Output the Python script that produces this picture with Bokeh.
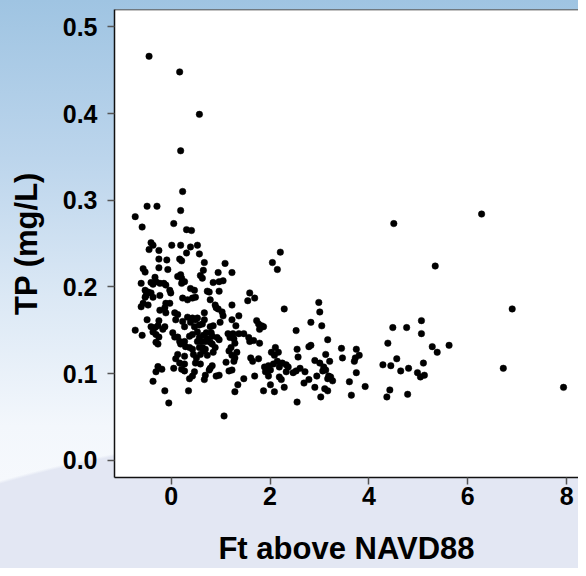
from bokeh.plotting import figure
from bokeh.models import Range1d, FixedTicker, PrintfTickFormatter, Span
from bokeh.embed import file_html
from bokeh.resources import INLINE

# Elevation (ft above NAVD88) and total phosphorus (mg/L)
ft_navd88 = [
    -0.447, 0.172, 0.571, 0.192, 0.232, -0.487, -0.287, -0.727, 0.192, -0.587, 0.052, 0.311, 0.411,
    -0.407, -0.367, 0.012, 0.192, 0.531, 0.391, -0.447, -0.248, 0.311, 0.571, -0.248, -0.088, 0.172,
    0.212, 0.671, -0.567, -0.527, -0.248, -0.068, 0.651, 0.132, 0.192, 0.212, 0.271, 0.212, 0.591, 0.631,
    -0.327, -0.307, -0.407, -0.367, -0.228, -0.148, -0.607, -0.527, -0.467, -0.507, -0.407, -0.108,
    -0.028, -0.008, 0.391, 0.471, -0.567, -0.108,
    -0.527, -0.367, -0.228, 0.232, 0.331, 0.431, 0.491, -0.607, -0.467, -0.228, -0.128, -0.028, -0.108,
    0.072, 0.132, 0.092, 0.331, 0.431, 0.491, 0.391, 0.471, 0.571, -0.487, -0.248, 0.232, 0.271, -0.727,
    -0.587, -0.407, -0.327, -0.267, -0.128, -0.168, -0.367, -0.307, -0.248, -0.307, -0.267, 0.032, 0.072,
    0.132, 0.172, 0.192, 0.271, 0.291, 0.371, 0.431, 0.531, 0.371, 0.431, 0.531, 0.571, 0.132, 0.271,
    0.092, 0.451, 0.511, 0.591, 0.172, 0.271, 0.491, -0.267, -0.188, -0.307, 0.052, 0.212, 0.271, 0.591,
    0.471, 0.431, -0.367, 0.371, -0.128, 0.351, -0.048,
    1.090, 0.950, 1.230, 0.850, 0.970, 1.050, 0.970, 0.731, 0.770, 1.589, 1.689, 1.549, 0.790, 1.230,
    0.890, 0.910, 0.950, 1.030, 1.050, 0.671, 1.369, 0.531, 0.671, 0.631, 1.230, 1.729, 1.768, 1.828,
    1.788, 1.868, 0.990, 0.850, 0.790, 1.309, 0.711, 0.810, 0.651, 0.830, 0.930, 0.970, 1.150, 1.250,
    1.369, 1.469, 0.571, 0.611, 0.691, 0.731, 1.190, 1.269, 1.289, 1.210, 1.170, 1.569, 1.589, 1.669,
    1.788, 0.790, 0.830, 0.631, 0.691, 0.890, 0.850, 0.731, 0.651, 2.108, 2.168, 2.028, 2.088, 1.329,
    1.230, 1.289, 1.609, 1.649, 1.768, 1.110, 1.269, 0.830, 0.790, 0.770, 1.888, 1.968, 2.068, 2.148,
    2.188, 2.008, 1.170, 1.230, 0.691, 0.910, 0.970, 1.469, 1.689, 1.349, 0.671, 1.908, 1.968, 1.868,
    2.008, 2.088, 1.289, 1.070,
    2.208, 2.048, 2.148, 2.188, 2.287, 2.986, 3.006, 2.826, 3.046, 2.527, 4.483, 3.166, 4.383, 2.547,
    2.786, 2.826, 3.445, 3.745, 3.804, 3.725, 3.705, 3.465, 3.126, 2.567, 2.906, 3.006, 3.206, 2.248,
    2.327, 2.367, 4.283, 4.443, 3.086, 3.126, 3.066, 2.607, 2.467, 2.527, 2.707, 2.327, 2.946, 3.226,
    3.166, 3.265, 3.186, 3.745, 2.228, 2.786, 2.687, 3.605, 3.924, 2.287, 2.906, 3.106, 3.166, 4.423,
    4.363, 3.645, 3.026, 2.547,
    4.503, 6.279, 5.341, 6.898, 5.062, 4.763, 5.062, 5.281, 5.381, 5.621, 4.563, 4.643, 4.802, 5.102,
    4.982, 5.042, 5.122, 6.718, 7.936, 4.783,
]

tp_mg_l = [
    0.466, 0.448, 0.399, 0.357, 0.310, 0.293, 0.293, 0.281, 0.288, 0.269, 0.273, 0.266, 0.265,
    0.251, 0.248, 0.248, 0.248, 0.248, 0.246, 0.243, 0.242, 0.239, 0.238, 0.232, 0.231, 0.232,
    0.230, 0.228, 0.221, 0.217, 0.222, 0.220, 0.219, 0.212, 0.214, 0.210, 0.206, 0.204, 0.213, 0.210,
    0.211, 0.206, 0.205, 0.203, 0.204, 0.204, 0.204, 0.196, 0.194, 0.190, 0.193, 0.202,
    0.196, 0.193, 0.198, 0.196, 0.181, 0.181,
    0.188, 0.188, 0.190, 0.187, 0.185, 0.187, 0.188, 0.177, 0.179, 0.173, 0.176, 0.181, 0.170,
    0.170, 0.168, 0.162, 0.165, 0.164, 0.162, 0.159, 0.154, 0.156, 0.162, 0.161, 0.160, 0.154, 0.150,
    0.144, 0.154, 0.153, 0.155, 0.154, 0.151, 0.148, 0.145, 0.142, 0.136, 0.134, 0.147, 0.142,
    0.142, 0.137, 0.134, 0.137, 0.131, 0.143, 0.145, 0.148, 0.130, 0.128, 0.137, 0.130, 0.122, 0.120,
    0.117, 0.122, 0.118, 0.122, 0.112, 0.111, 0.112, 0.108, 0.105, 0.102, 0.106, 0.105, 0.103, 0.111,
    0.102, 0.097, 0.091, 0.094, 0.080, 0.080, 0.066,
    0.227, 0.2165, 0.2165, 0.205, 0.206, 0.207, 0.195, 0.195, 0.194, 0.193, 0.187, 0.184, 0.185, 0.179,
    0.179, 0.176, 0.1745, 0.171, 0.1665, 0.170, 0.1665, 0.164, 0.162, 0.157, 0.162, 0.161, 0.157, 0.155,
    0.151, 0.154, 0.159, 0.155, 0.154, 0.155, 0.147, 0.147, 0.144, 0.143, 0.1415, 0.139, 0.146, 0.146,
    0.146, 0.146, 0.1415, 0.137, 0.137, 0.140, 0.1415, 0.140, 0.135, 0.130, 0.126, 0.1415, 0.137, 0.138,
    0.135, 0.136, 0.134, 0.130, 0.128, 0.130, 0.1245, 0.121, 0.126, 0.130, 0.1245, 0.1245, 0.121, 0.1245,
    0.121, 0.118, 0.118, 0.114, 0.117, 0.113, 0.114, 0.109, 0.106, 0.104, 0.1075, 0.109, 0.111, 0.114,
    0.1075, 0.104, 0.103, 0.104, 0.098, 0.097, 0.098, 0.094, 0.097, 0.087, 0.093, 0.102, 0.097, 0.080,
    0.087, 0.079, 0.079, 0.051,
    0.240, 0.228, 0.220, 0.096, 0.1745, 0.182, 0.171, 0.159, 0.155, 0.1495, 0.153, 0.139, 0.135, 0.128,
    0.131, 0.1325, 0.129, 0.128, 0.121, 0.118, 0.114, 0.118, 0.122, 0.119, 0.115, 0.112, 0.114, 0.112,
    0.110, 0.1075, 0.110, 0.109, 0.1075, 0.104, 0.103, 0.106, 0.101, 0.103, 0.102, 0.102, 0.097, 0.096,
    0.094, 0.0915, 0.097, 0.101, 0.093, 0.093, 0.089, 0.0905, 0.085, 0.084, 0.084, 0.0825, 0.080, 0.081,
    0.073, 0.075, 0.073, 0.067,
    0.273, 0.284, 0.224, 0.1745, 0.161, 0.153, 0.146, 0.131, 0.1245, 0.1325, 0.117, 0.103, 0.106, 0.112,
    0.101, 0.096, 0.098, 0.106, 0.084, 0.076,
]

x_ticks = [0, 2, 4, 6, 8]
y_ticks = [0.0, 0.1, 0.2, 0.3, 0.4, 0.5]
x_title = "Ft above NAVD88"
y_title = "TP (mg/L)"

FONT = "Liberation Sans"

p = figure(
    width=578, height=568,
    x_range=Range1d(-1.146, 8.239), y_range=Range1d(-0.02, 0.52),
    output_backend="svg", toolbar_location=None,
    min_border_left=114, min_border_right=0, min_border_top=9, min_border_bottom=90,
)
p.border_fill_color = None
p.background_fill_color = "white"
p.outline_line_color = None
p.styles = {
    "background": (
        "radial-gradient(ellipse 760px 250px at 500px 669px, #e3e7f3 0%, #e3e7f3 99%, rgba(227,231,243,0) 100%), "
        "linear-gradient(180deg, #9fc4e2 0%, #bcd5ec 28%, #dbe8f5 52%, #f3f7fc 75%, #fbfcfe 100%)"
    )
}
p.grid.visible = False

p.scatter(ft_navd88, tp_mg_l, size=6.5, marker="circle", fill_color="black", line_color="black", line_width=0.5)

# frame borders (left and bottom via axis lines, top via span)
p.add_layout(Span(location=0.52, dimension="width", line_color="#111111", line_width=1.5))

for ax in (p.xaxis[0], p.yaxis[0]):
    ax.axis_line_color = "#111111"
    ax.axis_line_width = 1.5
    ax.major_tick_line_color = "#555555"
    ax.major_tick_line_width = 1.5
    ax.major_tick_in = 0
    ax.major_tick_out = 7
    ax.minor_tick_line_color = None
    ax.major_label_text_font = FONT
    ax.major_label_text_font_style = "bold"
    ax.major_label_text_font_size = "25px"
    ax.major_label_text_color = "black"
    ax.axis_label_text_font = FONT
    ax.axis_label_text_font_style = "bold"
    ax.axis_label_text_font_size = "31px"
    ax.axis_label_text_color = "black"

p.xaxis[0].ticker = FixedTicker(ticks=x_ticks)
p.xaxis[0].formatter = PrintfTickFormatter(format="%d")
p.xaxis[0].axis_label = x_title
p.xaxis[0].major_label_standoff = 2
p.xaxis[0].axis_label_standoff = 23
p.xaxis[0].axis_label_text_line_height = 1.0

p.yaxis[0].ticker = FixedTicker(ticks=y_ticks)
p.yaxis[0].formatter = PrintfTickFormatter(format="%.1f")
p.yaxis[0].axis_label = y_title
p.yaxis[0].major_label_standoff = 10
p.yaxis[0].axis_label_standoff = 16

open("out.html", "w").write(file_html(p, INLINE))
